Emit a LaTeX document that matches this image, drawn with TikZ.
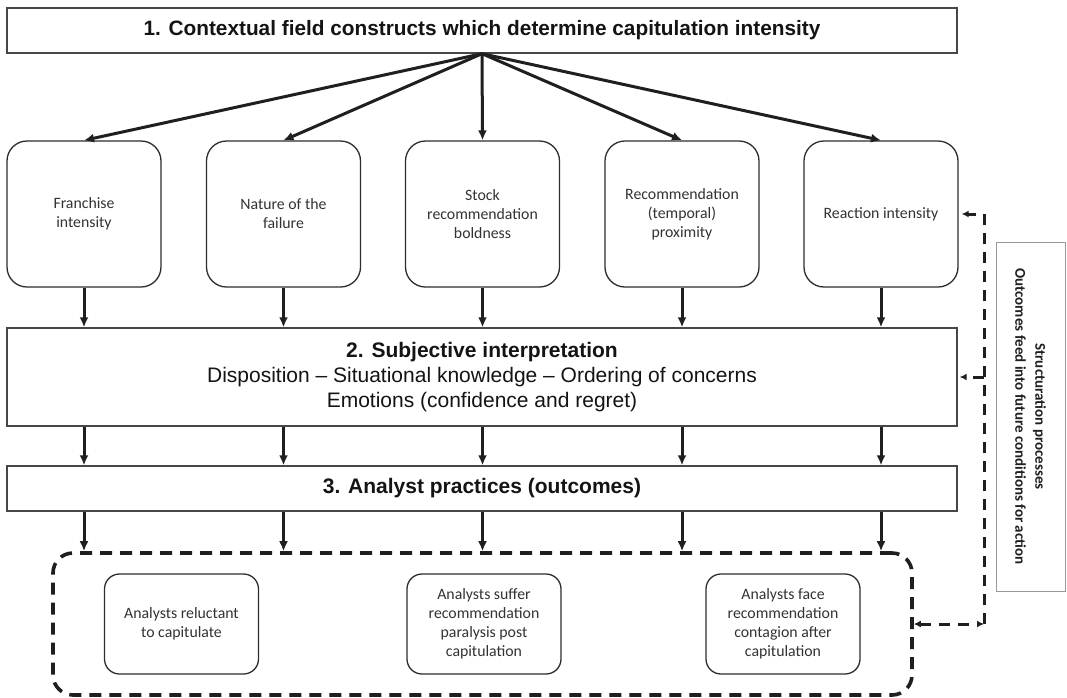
\documentclass[tikz,border=0pt]{standalone}
\usepackage{fontspec}
\setmainfont{Liberation Sans}
\newfontfamily\calib{Carlito}
\usetikzlibrary{arrows.meta}
\begin{document}
\begin{tikzpicture}[x=1pt,y=-1pt,
  hdr/.style={font=\fontsize{21}{25}\selectfont, text=black!92},
  plainbox/.style={draw=black!72, line width=1.4pt, inner sep=0pt, align=center},
  rbox/.style={draw=black!82, line width=1.3pt, rounded corners=20pt, minimum width=154pt, minimum height=146pt, inner sep=0pt, align=center, font=\calib\fontsize{15.8}{19}\selectfont, text=black!80},
  ibox/.style={rbox, minimum height=100pt, rounded corners=15pt},
  arr/.style={line width=3pt, draw=black!88, -{Latex[length=10pt,width=9pt]}},
  fb/.style={line width=3pt, draw=black!88, dash pattern=on 11pt off 8pt},
  fbtip/.style={-{Latex[length=7pt,width=7pt]}},
]
\path[use as bounding box, fill=white] (0,0) rectangle (1067,697);

% level 1
\node[plainbox, hdr, minimum width=950pt, minimum height=45pt, font=\fontsize{20.8}{24}\selectfont\bfseries] (top) at (482,30.5) {1. Contextual field constructs which determine capitulation intensity};
\coordinate (root) at (top.south);

\node[rbox] (b1) at (84,214) {Franchise\\intensity};
\node[rbox] (b2) at (283.5,214) {Nature of the\\failure};
\node[rbox] (b3) at (482.5,214) {Stock\\recommendation\\boldness};
\node[rbox] (b4) at (682,214) {Recommendation\\(temporal)\\proximity};
\node[rbox] (b5) at (881,214) {Reaction intensity};

\foreach \b in {b1,b2,b3,b4,b5}{\draw[arr] (root) -- (\b.north);}

% level 2
\node[plainbox, hdr, minimum width=950pt, minimum height=98pt] (sub) at (482,377)
  {\textbf{2. Subjective interpretation}\\Disposition – Situational knowledge – Ordering of concerns\\Emotions (confidence and regret)};

% level 3
\node[plainbox, hdr, minimum width=950pt, minimum height=45pt, font=\fontsize{21}{25}\selectfont\bfseries] (pra) at (482,488.5) {3. Analyst practices (outcomes)};

% outcomes
\node[draw=black!88, line width=3.6pt, dash pattern=on 12pt off 8pt, rounded corners=20pt, minimum width=859pt, minimum height=142pt, inner sep=0pt] (outc) at (482.5,624) {};
\node[ibox] (o1) at (181.5,624) {Analysts reluctant\\to capitulate};
\node[ibox] (o2) at (484,624) {Analysts suffer\\recommendation\\paralysis post\\capitulation};
\node[ibox] (o3) at (783,624) {Analysts face\\recommendation\\contagion after\\capitulation};

\foreach \b in {b1,b2,b3,b4,b5}{
  \draw[arr] (\b.south) -- (\b.south |- sub.north);
  \draw[arr] (\b.south |- sub.south) -- (\b.south |- pra.north);
  \draw[arr] (\b.south |- pra.south) -- (\b.south |- outc.north);
}

% structuration
\node[draw=black!40, line width=1pt, minimum width=69pt, minimum height=349pt, inner sep=0pt] (str) at (1030.5,416.5) {};
\node[rotate=-90, align=center, font=\calib\bfseries\fontsize{15}{20}\selectfont, text=black!88] (strt) at (str.center) {Structuration processes\\Outcomes feed into future conditions for action};

% feedback
\coordinate (fbb) at (984,624);
\coordinate (fbt) at (984,214);
\coordinate (fbm) at (984,377);
\draw[fb, {Latex[length=7pt,width=7pt]}-{Latex[length=7pt,width=7pt]}] (outc.east) -- (fbb);
\draw[fb, fbtip] (fbb) -- (fbt) -- ([xshift=3pt]b5.east);
\draw[fb, fbtip] (fbm) -- ([xshift=2pt]sub.east);
\end{tikzpicture}
\end{document}
